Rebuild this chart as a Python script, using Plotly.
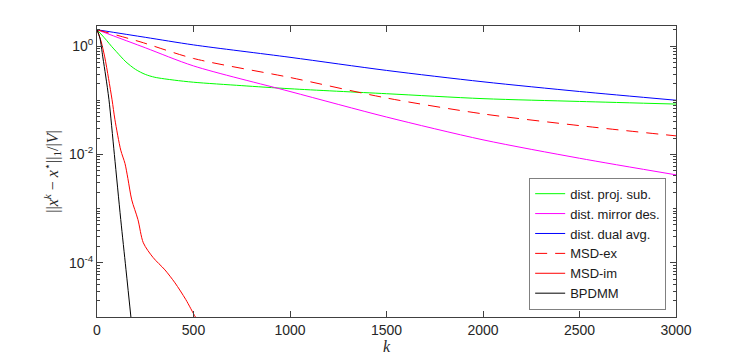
import plotly.graph_objects as go

# iterations and normalised l1 error
k_proj = [0, 25, 50, 75, 100, 125, 150, 200, 250, 300, 400, 500, 750, 1000, 1500, 2000, 2500, 3000]
err_proj = [2.0, 1.6, 1.27, 0.99, 0.79, 0.63, 0.51, 0.37, 0.30, 0.265, 0.235, 0.215, 0.186, 0.163,
            0.132, 0.107, 0.095, 0.085]

k_mirror = [0, 250, 500, 1000, 1500, 2000, 2500, 3000]
err_mirror = [2.0, 0.93, 0.43, 0.145, 0.049, 0.0186, 0.0085, 0.0042]

k_dual = [0, 250, 500, 1000, 1500, 2000, 2500, 3000]
err_dual = [2.0, 1.45, 1.05, 0.62, 0.355, 0.219, 0.145, 0.10]

k_msd_ex = [0, 223, 500, 1000, 1500, 2000, 2500, 3000]
err_msd_ex = [2.0, 1.2, 0.59, 0.263, 0.11, 0.056, 0.034, 0.022]

k_msd_im = [0, 20, 40, 60, 78, 93, 123, 145, 160, 180, 212, 240, 290, 352, 404, 460, 510, 530]
err_msd_im = [2.0, 1.26, 0.63, 0.25, 0.102, 0.0437, 0.012, 0.0068, 0.0036, 0.00145,
              6.3e-4, 2.34e-4, 1.26e-4, 7.4e-5, 4.27e-5, 2.1e-5, 1.0e-5, 7.9e-6]

k_bpdmm = [0, 15, 30, 45, 62, 90, 123, 150, 180]
err_bpdmm = [2.0, 1.41, 0.63, 0.28, 0.102, 0.01, 6.3e-4, 7.6e-5, 7.1e-6]

x_ticks = [0, 500, 1000, 1500, 2000, 2500, 3000]
y_ticks = [1, 1e-2, 1e-4]
y_tick_text = ["10<sup>0</sup>", "10<sup>-2</sup>", "10<sup>-4</sup>"]

series = [
    ("dist. proj. sub.", k_proj, err_proj, "#00ff00", "solid"),
    ("dist. mirror des.", k_mirror, err_mirror, "#ff00ff", "solid"),
    ("dist. dual avg.", k_dual, err_dual, "#0000ff", "solid"),
    ("MSD-ex", k_msd_ex, err_msd_ex, "#ff0000", "12px,8px"),
    ("MSD-im", k_msd_im, err_msd_im, "#ff0000", "solid"),
    ("BPDMM", k_bpdmm, err_bpdmm, "#000000", "solid"),
]

fig = go.Figure()
for name, k, err, color, dash in series:
    fig.add_trace(go.Scatter(
        x=k, y=err, mode="lines", name=name,
        line=dict(color=color, width=1, dash=dash, shape="spline", smoothing=0.8),
    ))

# minor ticks for every decade
minor_vals = []
for e in range(-5, 1):
    for m in range(1, 10):
        v = m * 10.0 ** e
        if v <= 2.3 and v not in y_ticks:
            minor_vals.append(v)

axis_color = "#404040"
# the page body has an 8px margin, so the margins are shifted to compensate
fig.update_layout(
    width=747, height=363,
    margin=dict(l=89, r=79, t=18, b=54),
    paper_bgcolor="white", plot_bgcolor="white",
    font=dict(family="Liberation Sans, Arial, sans-serif", size=14, color="#262626"),
    showlegend=True,
    legend=dict(
        x=0.983, y=0.025, xanchor="right", yanchor="bottom",
        bgcolor="white", bordercolor="#808080", borderwidth=1,
        font=dict(size=13, color="#1a1a1a"),
        tracegroupgap=0,
    ),
    xaxis=dict(
        range=[0, 3000], tickvals=x_ticks, ticks="inside", ticklen=6,
        showline=True, linecolor=axis_color, linewidth=1, mirror="allticks",
        showgrid=False, zeroline=False, tickcolor=axis_color,
        title=dict(text="<i>k</i>", standoff=4, font=dict(family="Liberation Serif, serif", size=16)),
    ),
    yaxis=dict(
        type="log", range=[-5, 0.37],
        tickvals=y_ticks, ticktext=y_tick_text, ticks="inside", ticklen=6,
        showline=True, linecolor=axis_color, linewidth=1, mirror="allticks",
        showgrid=False, zeroline=False, tickcolor=axis_color,
        minor=dict(tickvals=minor_vals, ticks="inside", ticklen=3, tickcolor=axis_color, showgrid=False),
        title=dict(
            text="||<i>x</i><sup><i>k</i></sup> − <i>x</i><sup>⋆</sup>||<sub>1</sub>/|<i>V</i>|",
            standoff=6, font=dict(family="Liberation Serif, serif", size=16),
        ),
    ),
)

fig.write_html("out.html")
